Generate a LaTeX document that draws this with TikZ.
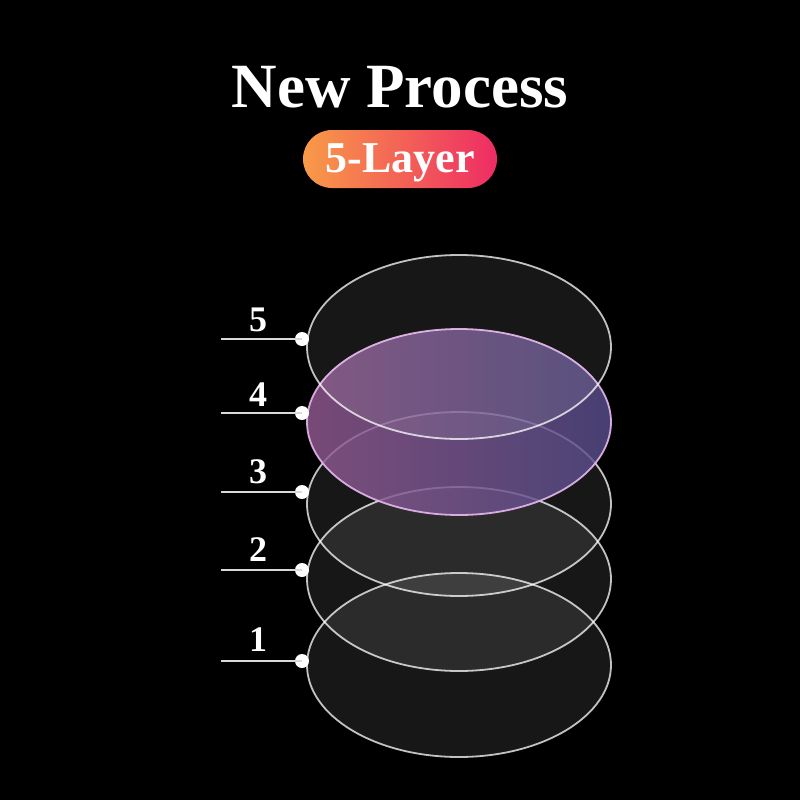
\documentclass[tikz,border=0pt]{standalone}
\usepackage{fontspec}
\setmainfont{Liberation Serif}
\begin{document}
\begin{tikzpicture}[x=1pt,y=-1pt,
  layer/.style={fill=white,fill opacity=0.09,draw=white,draw opacity=0.75,line width=1.8pt},
  purplelayer/.style={left color=lpink,right color=lblue,fill opacity=0.82,draw=lborder,draw opacity=0.9,line width=1.8pt},
  numlabel/.style={text=white,font=\fontsize{36}{40}\selectfont\bfseries,anchor=base},
  leader/.style={draw=white!85!black,line width=2.5pt},
  dotmark/.style={circle,fill=white,inner sep=0pt,minimum size=14pt}]
\definecolor{lpink}{HTML}{925A92}
\definecolor{lblue}{HTML}{584E8C}
\definecolor{lborder}{HTML}{E8B8F0}
\definecolor{borange}{HTML}{F89A48}
\definecolor{bpink}{HTML}{EE2C64}
\fill[black] (0,0) rectangle (800,800);
\useasboundingbox (0,0) rectangle (800,800);
% title
\node[text=white,font=\fontsize{63}{70}\selectfont\bfseries,anchor=base] (title) at (400,107) {New Process};
% badge
\shade[left color=borange,right color=bpink,rounded corners=29pt] (303,130) rectangle (497,188);
\node[text=white,font=\fontsize{44}{50}\selectfont\bfseries,anchor=base] (badge) at (400,172) {5-Layer};
% layers
\path[layer] (459,665) ellipse (152 and 92);
\path[layer] (459,579) ellipse (152 and 92);
\path[layer] (459,504) ellipse (152 and 92);
\path[purplelayer] (459,422) ellipse (152 and 93);
\path[layer] (459,347) ellipse (152 and 92);
% leaders
\foreach \n/\y/\ly in {5/339/331,4/413/406,3/492/483,2/570/561,1/661/651}{
  \coordinate (s\n) at (221,\y);
  \node[dotmark] (d\n) at (302,\y) {};
  \draw[leader] (s\n) -- (d\n.center);
  \node[numlabel] (n\n) at (258,\ly) {\n};
}
\end{tikzpicture}
\end{document}
